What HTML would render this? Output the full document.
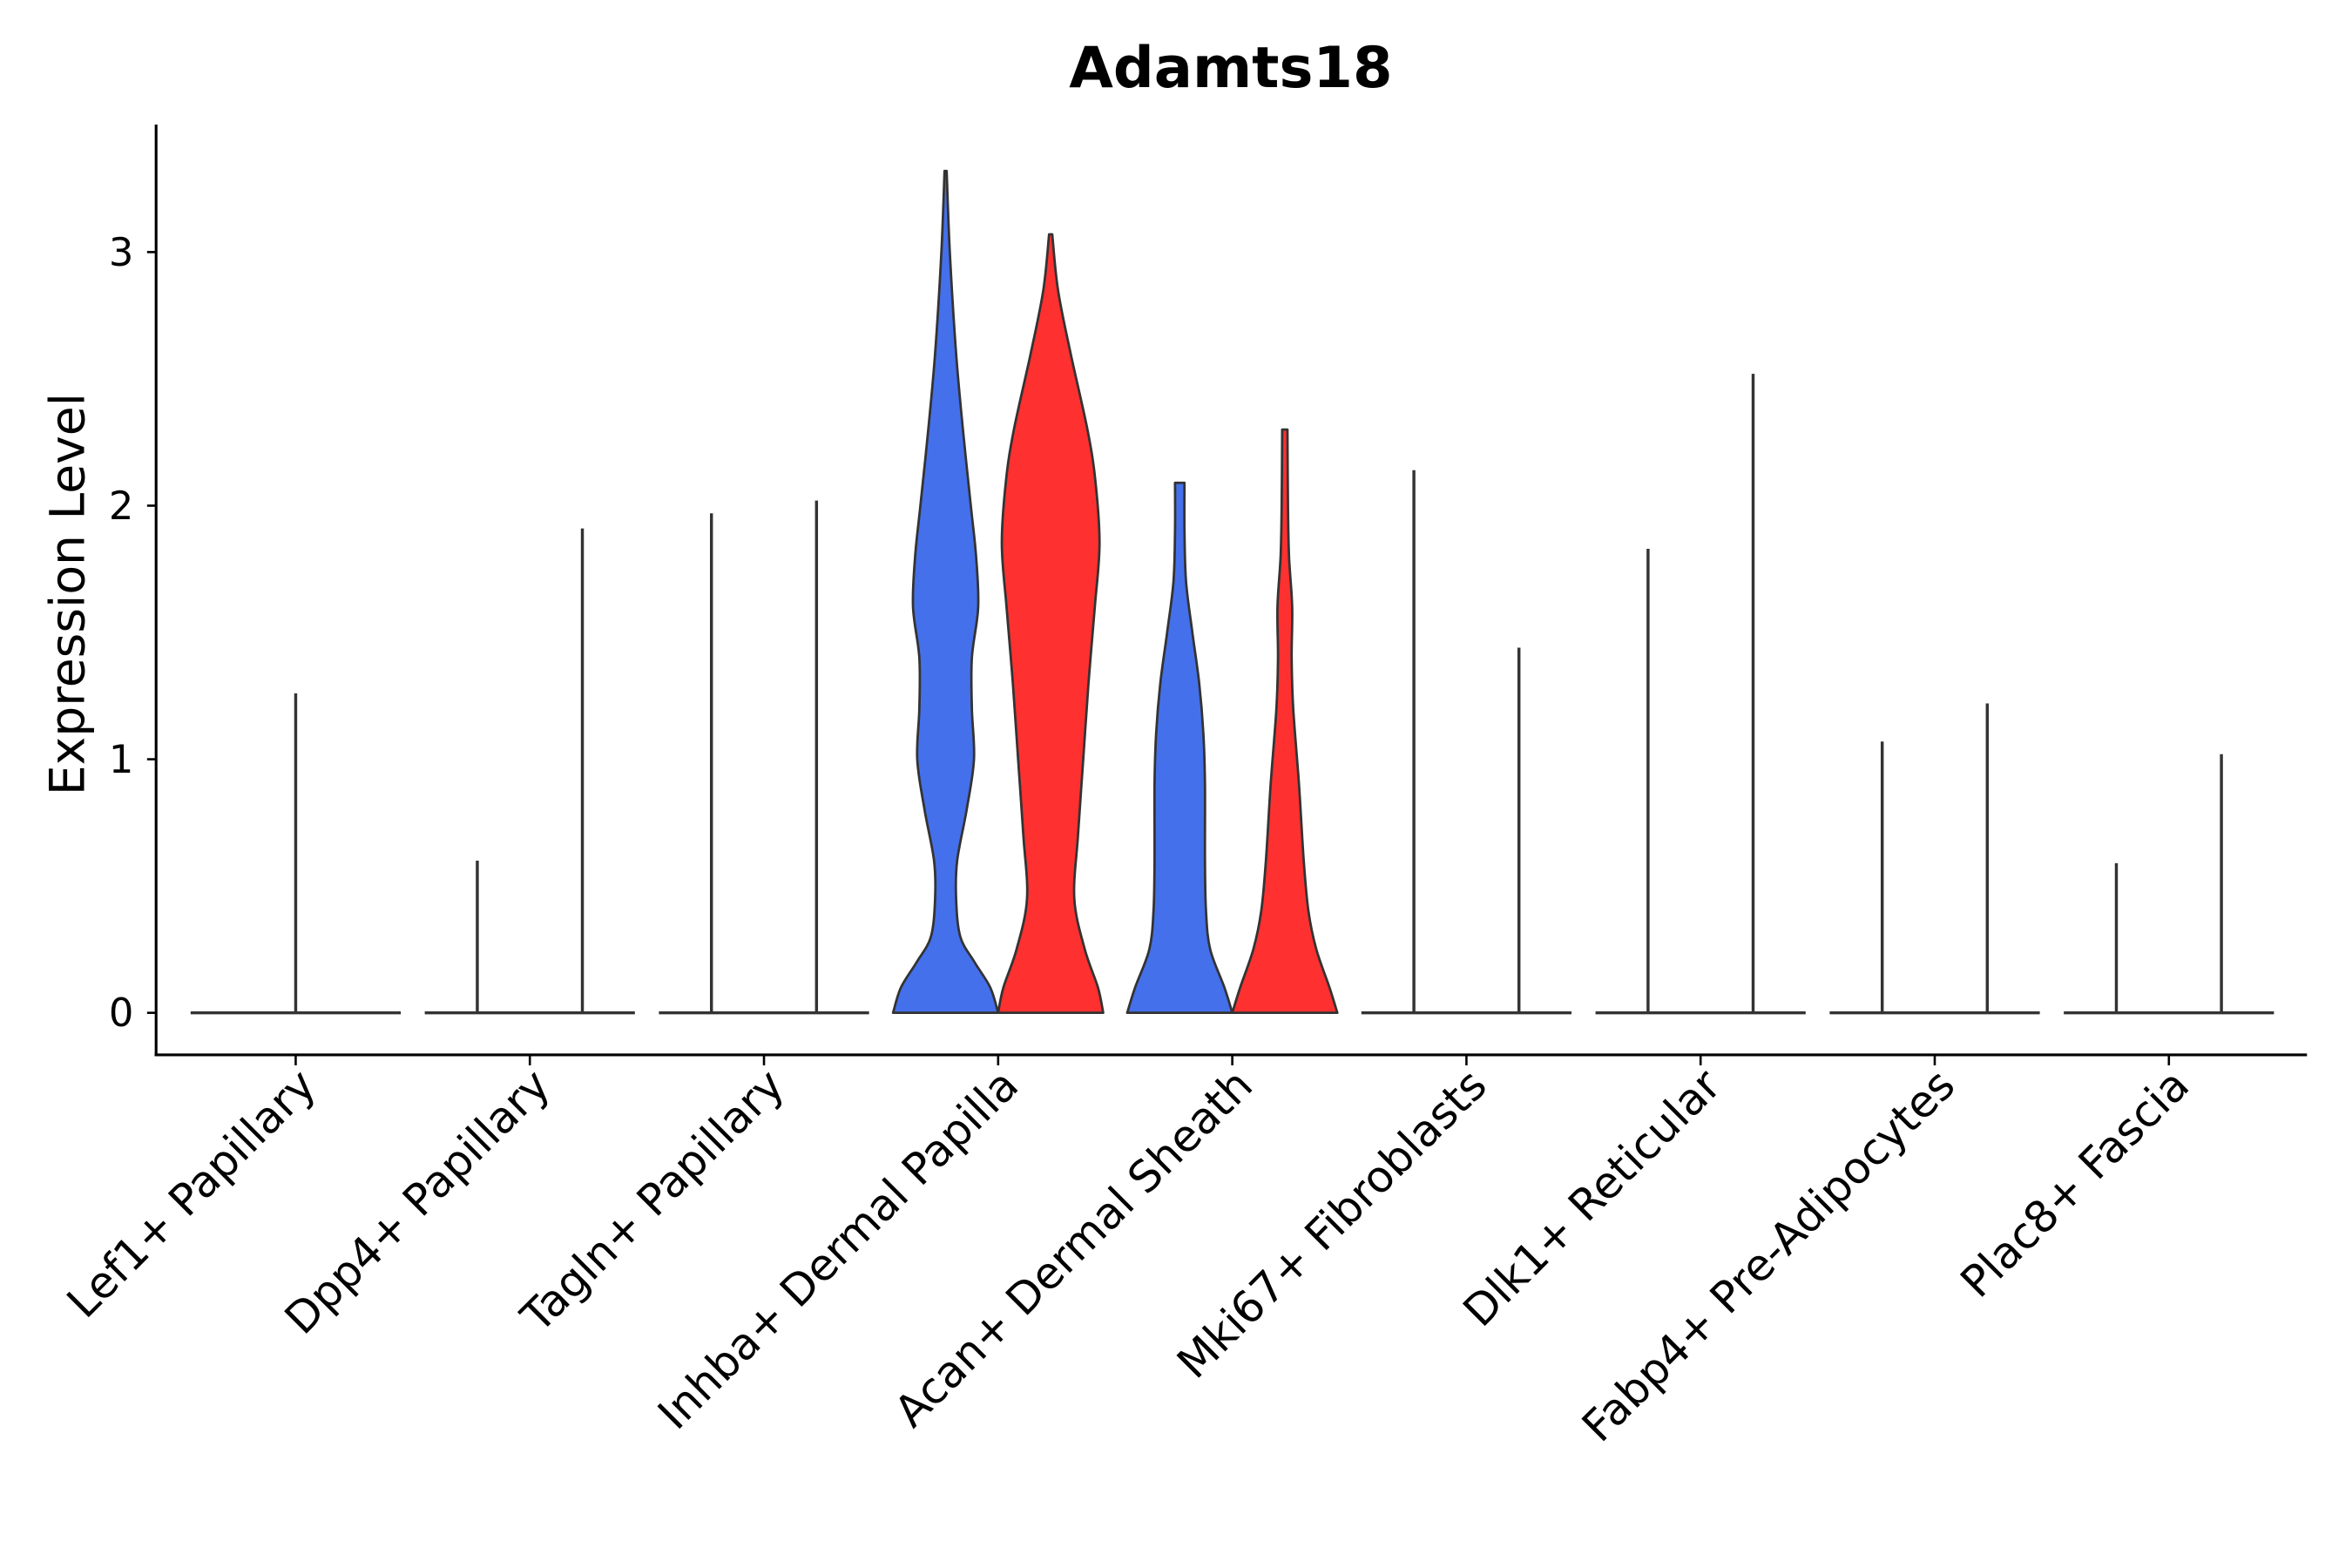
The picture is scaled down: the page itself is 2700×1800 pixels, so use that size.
<!DOCTYPE html>
<html><head><meta charset="utf-8">
<style>
html,body{margin:0;padding:0;background:#fff;}
svg{display:block;font-family:"DejaVu Sans","Liberation Sans",sans-serif;}
</style></head>
<body>
<svg id="chart" width="2700" height="1800" viewBox="0 0 1567 1045" preserveAspectRatio="none" xmlns="http://www.w3.org/2000/svg">
<rect width="1567" height="1045" fill="#fff"/>
<text x="820" y="58" text-anchor="middle" font-size="38" font-weight="bold" fill="#000">Adamts18</text>
<text transform="translate(56,396) rotate(-90)" text-anchor="middle" font-size="32" fill="#000">Expression Level</text>
<g id="marks"></g>
<g id="axes"></g>
</svg>
<script>
const categories = ["Lef1+ Papillary","Dpp4+ Papillary","Tagln+ Papillary","Inhba+ Dermal Papilla","Acan+ Dermal Sheath","Mki67+ Fibroblasts","Dlk1+ Reticular","Fabp4+ Pre-Adipocytes","Plac8+ Fascia"];
const yTicks = [0,1,2,3];
const maxA = [null,0.6,1.97,3.32,2.09,2.14,1.83,1.07,0.59];
const maxB = [1.26,1.91,2.02,3.07,2.30,1.44,2.52,1.22,1.02];
const inhbaA = [[0,1],[0.1,0.85],[0.2,0.55],[0.3,0.28],[0.45,0.2],[0.6,0.22],[0.8,0.4],[1.0,0.54],[1.2,0.5],[1.4,0.5],[1.6,0.62],[1.8,0.58],[2.0,0.48],[2.3,0.33],[2.6,0.2],[3.0,0.08],[3.32,0.02]];
const inhbaB = [[0,1],[0.1,0.9],[0.25,0.65],[0.45,0.45],[0.7,0.52],[1.0,0.62],[1.3,0.72],[1.6,0.84],[1.85,0.93],[2.1,0.85],[2.3,0.7],[2.6,0.38],[2.85,0.14],[3.07,0.03]];
const acanA = [[0,1],[0.1,0.85],[0.25,0.58],[0.4,0.5],[0.6,0.48],[0.9,0.48],[1.1,0.45],[1.3,0.37],[1.5,0.24],[1.7,0.12],[1.9,0.09],[2.09,0.09]];
const acanB = [[0,1],[0.1,0.85],[0.25,0.6],[0.4,0.45],[0.6,0.36],[0.9,0.27],[1.2,0.16],[1.4,0.13],[1.6,0.14],[1.8,0.08],[2.0,0.06],[2.3,0.05]];

const X0=104, X1=1537, YT=83, YB=703, PAD=35;
const yScale = v => 675 - v*169;
const xCenter = i => 197 + i*156;
const NS="http://www.w3.org/2000/svg";
const marks=document.getElementById('marks'), axes=document.getElementById('axes');
function mk(tag,attrs,parent){const e=document.createElementNS(NS,tag);for(const k in attrs)e.setAttribute(k,attrs[k]);parent.appendChild(e);return e;}

function smooth(all){
  let d='';
  for(let i=0;i<all.length-1;i++){
    const p0=all[Math.max(0,i-1)],p1=all[i],p2=all[i+1],p3=all[Math.min(all.length-1,i+2)];
    const c1=[p1[0]+(p2[0]-p0[0])/6,p1[1]+(p2[1]-p0[1])/6];
    const c2=[p2[0]-(p3[0]-p1[0])/6,p2[1]-(p3[1]-p1[1])/6];
    d+=`C${c1[0].toFixed(2)},${c1[1].toFixed(2)} ${c2[0].toFixed(2)},${c2[1].toFixed(2)} ${p2[0].toFixed(2)},${p2[1].toFixed(2)}`;
  }
  return d;
}
function violinPath(cx,prof){
  const right=prof.map(p=>[cx+p[1]*PAD,yScale(p[0])]);
  const left=prof.slice().reverse().map(p=>[cx-p[1]*PAD,yScale(p[0])]);
  return `M${right[0][0]},${right[0][1]}`+smooth(right)+`L${left[0][0]},${left[0][1]}`+smooth(left)+'Z';
}

categories.forEach((c,i)=>{
  const cx=xCenter(i);
  if(i===3||i===4){
    const pa = i===3?inhbaA:acanA, pb = i===3?inhbaB:acanB;
    const va=mk('path',{d:violinPath(cx-35,pa),fill:'#4570EB',stroke:'#333',"stroke-width":1.6,"stroke-linejoin":"round"},marks);
    
    
    const vb=mk('path',{d:violinPath(cx+35,pb),fill:'#FF3030',stroke:'#333',"stroke-width":1.6,"stroke-linejoin":"round"},marks);
    
    
  } else {
    const base=mk('line',{x1:cx-70,x2:cx+70,y1:yScale(0),y2:yScale(0),stroke:'#333',"stroke-width":2},marks);
    
    
    const lx = i===0 ? [[cx,maxB[0]]] : [[cx-35,maxA[i]],[cx+35,maxB[i]]];
    lx.forEach(([x,m])=>{
      if(m==null)return;
      const l=mk('line',{x1:x,x2:x,y1:yScale(0),y2:yScale(m),stroke:'#333',"stroke-width":2},marks);
      
      
    });
  }
});

const ya=mk('line',{x1:X0,x2:X0,y1:YT,y2:YB,stroke:'#000',"stroke-width":1.8},axes);


const xa=mk('line',{x1:X0-1,x2:X1,y1:YB,y2:YB,stroke:'#000',"stroke-width":1.8},axes);


yTicks.forEach(t=>{
  const y=yScale(t);
  const tk=mk('line',{x1:X0-6,x2:X0,y1:y,y2:y,stroke:'#000',"stroke-width":1.5},axes);
  
  
  const tl=mk('text',{x:X0-15,y:y+9,"text-anchor":"end","font-size":26,fill:'#000'},axes);
  tl.textContent=t;
  
  
});
categories.forEach((c,i)=>{
  const x=xCenter(i);
  const tk=mk('line',{x1:x,x2:x,y1:YB,y2:YB+7,stroke:'#000',"stroke-width":1.5},axes);
  
  
  const tl=mk('text',{transform:`translate(${x+15},${YB+22}) rotate(-45)`,"text-anchor":"end","font-size":29,fill:'#000'},axes);
  tl.textContent=c;
  
  
});
</script>
</body></html>
